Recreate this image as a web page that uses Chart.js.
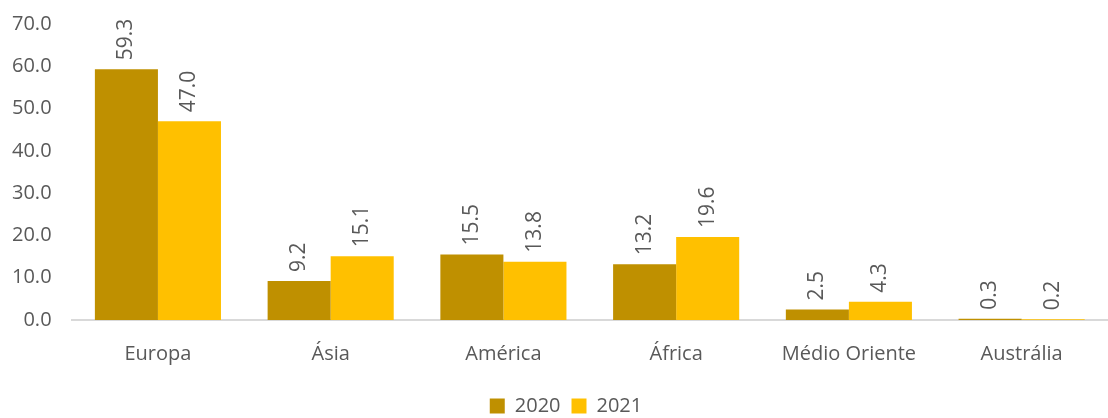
<!DOCTYPE html>
<html>
<head>
<meta charset="utf-8">
<script src="https://cdn.jsdelivr.net/npm/chart.js@4"></script>
<style>
  html, body { margin: 0; padding: 0; background: #fff; }
  #wrap { width: 1108px; height: 418px; }
</style>
</head>
<body>
<div id="wrap"><canvas id="grafico"></canvas></div>
<script>
const regioes = ['Europa', 'Ásia', 'América', 'África', 'Médio Oriente', 'Austrália'];
const valores2020 = [59.3, 9.2, 15.5, 13.2, 2.5, 0.3];
const valores2021 = [47.0, 15.1, 13.8, 19.6, 4.3, 0.2];

const corTexto = '#595959';
const fonte = "'Open Sans', sans-serif";

// rotulos verticais acima das barras
const rotulos = {
  id: 'rotulos',
  afterDatasetsDraw(chart) {
    const ctx = chart.ctx;
    ctx.save();
    ctx.font = '21px ' + fonte;
    ctx.fillStyle = corTexto;
    ctx.textAlign = 'left';
    ctx.textBaseline = 'middle';
    chart.data.datasets.forEach((ds, i) => {
      chart.getDatasetMeta(i).data.forEach((bar, j) => {
        ctx.save();
        ctx.translate(bar.x, bar.y - 9);
        ctx.rotate(-Math.PI / 2);
        ctx.fillText(ds.data[j].toFixed(1), 0, 0);
        ctx.restore();
      });
    });
    ctx.restore();
  }
};

// empurra a legenda um pouco para baixo e para a direita
const moverLegenda = {
  id: 'moverLegenda',
  afterLayout(chart) {
    const lg = chart.legend;
    if (!lg) return;
    lg.top += 5; lg.bottom += 5;
    lg.left += 12; lg.right += 12;
  }
};

const ctx = document.getElementById('grafico').getContext('2d');
new Chart(ctx, {
  type: 'bar',
  data: {
    labels: regioes,
    datasets: [
      { label: '2020', data: valores2020, backgroundColor: '#bf9000' },
      { label: '2021', data: valores2021, backgroundColor: '#ffc000' }
    ]
  },
  options: {
    responsive: true,
    maintainAspectRatio: false,
    animation: false,
    layout: { padding: { left: 0, right: 0, top: 12, bottom: -3 } },
    datasets: { bar: { categoryPercentage: 0.73, barPercentage: 1.0 } },
    scales: {
      x: {
        grid: { display: false },
        border: { color: '#d9d9d9', width: 2 },
        ticks: { color: corTexto, font: { family: fonte, size: 20 }, padding: 14 }
      },
      y: {
        min: 0,
        max: 70,
        grid: { display: false },
        border: { display: false },
        ticks: {
          stepSize: 10,
          color: corTexto,
          font: { family: fonte, size: 20 },
          padding: 12,
          callback: v => v.toFixed(1)
        }
      }
    },
    plugins: {
      legend: {
        position: 'bottom',
        labels: {
          color: corTexto,
          font: { family: fonte, size: 20 },
          boxWidth: 15,
          boxHeight: 15,
          padding: 11
        }
      },
      tooltip: { enabled: false }
    }
  },
  plugins: [rotulos, moverLegenda]
});
</script>
</body>
</html>
